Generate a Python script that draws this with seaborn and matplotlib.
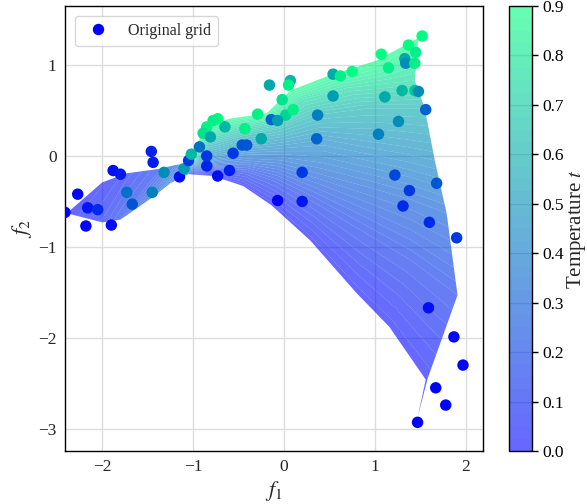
import numpy as np
import matplotlib
matplotlib.use("Agg")
import matplotlib.pyplot as plt
from matplotlib.lines import Line2D
import seaborn as sns

# ---- sampled points on the original grid: objectives f1, f2 and temperature t ----
f1 = [-2.41, -2.27, -2.16, -2.05, -2.18, -1.90, -1.88, -1.80, -1.73, -1.67,
      -1.46, -1.44, -1.45, -1.32, -1.15, -1.10, -1.05, -1.02, -0.93, -0.85,
      -0.85, -0.73, -0.60, -0.56, -0.46, -0.41, -0.25, -0.14, -0.07, -0.16,
      0.07, 0.05, -0.02, 0.02, 0.10, 0.20, 0.20, -0.29, -0.43, -0.65,
      -0.73, -0.78, -0.85, -0.89, -0.81, -0.07, 0.54, 0.62, 0.75, 0.54,
      0.37, 0.36, 1.07, 1.15, 1.11, 1.26, 1.04, 1.33, 1.34, 1.37,
      1.45, 1.44, 1.52, 1.30, 1.44, 1.48, 1.56, 1.22, 1.38, 1.31,
      1.68, 1.60, 1.90, 1.59, 1.87, 1.97, 1.67, 1.78, 1.47]
f2 = [-0.62, -0.42, -0.57, -0.59, -0.77, -0.76, -0.16, -0.20, -0.40, -0.53,
      0.05, -0.07, -0.40, -0.18, -0.23, -0.14, -0.05, 0.02, 0.10, -0.11,
      0.00, -0.22, -0.16, 0.03, 0.12, 0.12, 0.19, 0.40, -0.49, 0.78,
      0.83, 0.78, 0.62, 0.45, 0.51, -0.18, -0.50, 0.46, 0.30, 0.32,
      0.41, 0.39, 0.32, 0.25, 0.21, 0.39, 0.90, 0.88, 0.93, 0.66,
      0.45, 0.19, 1.12, 0.97, 0.65, 0.38, 0.24, 1.07, 1.02, 1.22,
      1.14, 1.02, 1.32, 0.72, 0.72, 0.71, 0.51, -0.21, -0.38, -0.55,
      -0.30, -0.73, -0.90, -1.67, -1.99, -2.30, -2.55, -2.74, -2.93]
temp = [0.00, 0.02, 0.08, 0.15, 0.02, 0.05, 0.05, 0.08, 0.40, 0.30,
        0.12, 0.10, 0.45, 0.50, 0.05, 0.55, 0.20, 0.65, 0.40, 0.12,
        0.20, 0.05, 0.10, 0.20, 0.30, 0.30, 0.60, 0.35, 0.00, 0.60,
        0.65, 0.85, 0.80, 0.75, 0.85, 0.20, 0.08, 0.85, 0.85, 0.65,
        0.90, 0.85, 0.85, 0.80, 0.60, 0.55, 0.60, 0.85, 0.90, 0.55,
        0.45, 0.35, 0.90, 0.85, 0.60, 0.50, 0.45, 0.60, 0.50, 0.90,
        0.85, 0.85, 0.90, 0.65, 0.70, 0.50, 0.35, 0.25, 0.20, 0.15,
        0.30, 0.15, 0.20, 0.05, 0.02, 0.02, 0.00, 0.00, 0.00]

# ---- interpolated front surface: one row of (f1, f2) per temperature level ----
body_t = [0.0, 0.01, 0.15, 0.30, 0.45, 0.60, 0.75, 0.90]
body_f1 = [
    [-1.05, -0.78, -0.45, -0.14, 0.29, 0.80, 1.16, 1.56, 1.47],
    [-1.05, -0.78, -0.45, -0.14, 0.29, 0.80, 1.16, 1.58, 1.58],
    [-1.04, -0.75, -0.42, -0.10, 0.35, 0.90, 1.40, 1.91, 1.91],
    [-1.03, -0.75, -0.40, -0.05, 0.40, 0.95, 1.40, 1.79, 1.79],
    [-1.02, -0.78, -0.40, 0.00, 0.45, 1.00, 1.35, 1.66, 1.66],
    [-1.01, -0.82, -0.45, -0.05, 0.35, 0.90, 1.25, 1.55, 1.55],
    [-1.005, -0.86, -0.52, -0.12, 0.20, 0.70, 1.15, 1.44, 1.44],
    [-1.00, -0.90, -0.60, -0.19, 0.07, 0.51, 1.02, 1.48, 1.48],
]
body_f2 = [
    [-0.20, -0.22, -0.33, -0.54, -0.93, -1.51, -1.88, -2.46, -2.88],
    [-0.20, -0.22, -0.33, -0.54, -0.93, -1.51, -1.88, -2.45, -2.45],
    [-0.17, -0.15, -0.17, -0.28, -0.52, -0.85, -1.15, -1.53, -1.53],
    [-0.14, -0.08, -0.05, -0.08, -0.20, -0.35, -0.48, -0.63, -0.63],
    [-0.12, 0.00, 0.08, 0.12, 0.18, 0.08, 0.02, -0.05, -0.05],
    [-0.10, 0.12, 0.22, 0.30, 0.45, 0.52, 0.52, 0.52, 0.52],
    [-0.085, 0.22, 0.32, 0.40, 0.62, 0.75, 0.80, 0.83, 0.83],
    [-0.07, 0.30, 0.41, 0.47, 0.72, 0.89, 1.05, 1.30, 1.30],
]

# left branch of the surface: lower and upper edge with their temperatures
wing_f1 = [[-2.39, -2.00, -1.80, -1.44, -1.25, -1.05],
           [-2.39, -2.00, -1.73, -1.36, -1.20, -1.00]]
wing_f2 = [[-0.63, -0.73, -0.70, -0.45, -0.30, -0.20],
           [-0.63, -0.29, -0.19, -0.14, -0.10, -0.07]]
wing_t = [[0.00, 0.08, 0.15, 0.28, 0.36, 0.45],
          [0.00, 0.02, 0.06, 0.15, 0.25, 0.45]]

cbar_ticks = [0.0, 0.1, 0.2, 0.3, 0.4, 0.5, 0.6, 0.7, 0.8, 0.9]
x_ticks = [-2, -1, 0, 1, 2]
y_ticks = [-3, -2, -1, 0, 1]

sns.set_theme(style="whitegrid")
plt.rcParams.update({
    "font.family": ["Liberation Serif", "DejaVu Serif"],
    "mathtext.fontset": "stix",
    "axes.edgecolor": "black",
    "axes.linewidth": 1.0,
    "grid.color": "#dcdcdc",
    "grid.linewidth": 1.0,
})

fig = plt.figure(figsize=(5.87, 5.04), dpi=100)
ax = fig.add_axes([0.1107, 0.1052, 0.7121, 0.8829])
cax = fig.add_axes([0.8671, 0.1052, 0.0392, 0.8829])

levels = np.linspace(0.0, 0.9, 37)
tb = np.repeat(np.array(body_t)[:, None], len(body_f1[0]), axis=1)
cf = ax.contourf(np.array(body_f1), np.array(body_f2), tb, levels=levels,
                 cmap="winter", alpha=0.6, antialiased=True, zorder=1)
ax.contourf(np.array(wing_f1), np.array(wing_f2), np.array(wing_t), levels=levels,
            cmap="winter", alpha=0.6, antialiased=True, zorder=1)

sns.scatterplot(x=f1, y=f2, hue=temp, palette="winter", hue_norm=(0.0, 0.9),
                s=68, linewidth=0, legend=False, ax=ax, zorder=3)

ax.set_xlim(-2.41, 2.19)
ax.set_ylim(-3.245, 1.65)
ax.set_xticks(x_ticks)
ax.set_yticks(y_ticks)
ax.tick_params(labelsize=12.5, length=0, pad=6)
ax.set_xlabel("$f_1$", fontsize=16, labelpad=3)
ax.set_ylabel("$f_2$", fontsize=16, labelpad=3)
ax.set_axisbelow(True)
for sp in ax.spines.values():
    sp.set_color("black")
    sp.set_linewidth(1.0)

handle = Line2D([], [], marker="o", linestyle="", markersize=8.2,
                markerfacecolor=(0, 0, 1), markeredgewidth=0)
ax.legend([handle], ["Original grid"], loc="upper left", fontsize=11.5,
          frameon=True, borderpad=0.45, handletextpad=0.9,
          bbox_to_anchor=(0.0, 1.0), borderaxespad=0.6)

cb = fig.colorbar(cf, cax=cax, ticks=cbar_ticks)
cb.ax.tick_params(labelsize=12.5, length=4, width=1, direction="out", right=True, colors="black")
cb.ax.set_yticklabels([f"{v:.1f}" for v in cbar_ticks])
cb.set_label("Temperature $t$", fontsize=15, labelpad=1)
cb.outline.set_edgecolor("black")
cb.outline.set_linewidth(1.0)

fig.savefig("out.png", dpi=100)
